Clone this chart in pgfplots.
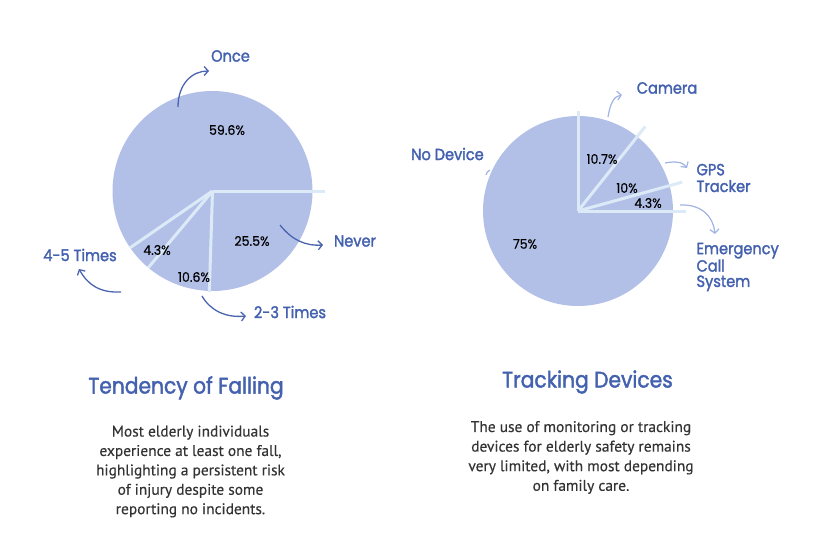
\documentclass[border=0pt]{standalone}
\usepackage{pgfplots}
\pgfplotsset{compat=1.18}
\usepackage{pgfplotstable}
\usetikzlibrary{arrows.meta}
\usepackage{fontspec}
\setmainfont{Poppins}
\newfontfamily\labf[FakeStretch=0.9,FakeBold=1.8]{Poppins}
\newfontfamily\pctf[FakeStretch=0.95,FakeBold=0.4]{Poppins}
\newfontfamily\descf[FakeBold=0.3]{PT Sans}
\definecolor{pie}{HTML}{B2C0E8}
\definecolor{sep}{HTML}{DCEAF8}
\definecolor{lab}{HTML}{4361AE}
\definecolor{arrL}{HTML}{4A64B0}
\definecolor{arrR}{HTML}{A0B3E3}
\definecolor{desc}{HTML}{333333}

\pgfplotstableread{
cat value
Never 25.5
TwoThree 10.6
FourFive 4.3
Once 59.6
}\falling
\pgfplotstableread{
cat value
Camera 10.7
GPS 10
Emergency 4.3
NoDevice 75
}\tracking

\pgfplotstablegetelem{0}{value}\of\falling \let\fA\pgfplotsretval
\pgfplotstablegetelem{1}{value}\of\falling \let\fB\pgfplotsretval
\pgfplotstablegetelem{2}{value}\of\falling \let\fC\pgfplotsretval
\pgfplotstablegetelem{3}{value}\of\falling \let\fD\pgfplotsretval
\pgfplotstablegetelem{0}{value}\of\tracking \let\tA\pgfplotsretval
\pgfplotstablegetelem{1}{value}\of\tracking \let\tB\pgfplotsretval
\pgfplotstablegetelem{2}{value}\of\tracking \let\tC\pgfplotsretval
\pgfplotstablegetelem{3}{value}\of\tracking \let\tD\pgfplotsretval

% cumulative angles (clockwise)
\pgfmathsetmacro\fa{0}
\pgfmathsetmacro\fb{\fa-3.6*\fA}
\pgfmathsetmacro\fc{\fb-3.6*\fB}
\pgfmathsetmacro\fd{\fc-3.6*\fC}
\pgfmathsetmacro\fe{\fd-3.6*\fD}
\pgfmathsetmacro\ta{90}
\pgfmathsetmacro\tb{\ta-3.6*\tA}
\pgfmathsetmacro\tc{\tb-3.6*\tB}
\pgfmathsetmacro\td{\tc-3.6*\tC}
\pgfmathsetmacro\te{\td-3.6*\tD}

\newcommand\slice[5]{\fill[pie] (axis cs:#1,#2) -- ++(#4:#3pt) arc[start angle=#4,end angle=#5,radius=#3pt] -- cycle;}
\newcommand\sepline[4]{\draw[sep,line width=3pt,line cap=butt] (axis cs:#1,#2) -- ++(#3:#4pt);}

\begin{document}
\begin{tikzpicture}
\useasboundingbox (0,0) rectangle (821pt,554pt);
\begin{axis}[at={(0,0)},anchor=south west,width=821pt,height=554pt,scale only axis,
  xmin=0,xmax=821,ymin=0,ymax=554,y dir=reverse,hide axis,clip=false]
% ---- left pie
\slice{212.5}{191}{100}{\fa}{\fb}
\slice{212.5}{191}{100}{\fb}{\fc}
\slice{212.5}{191}{100}{\fc}{\fd}
\slice{212.5}{191}{100}{\fd}{\fe}
\sepline{212.5}{191}{\fa}{112.5}
\sepline{212.5}{191}{\fb}{101}
\sepline{212.5}{191}{\fc}{100}
\sepline{212.5}{191}{\fd}{100}
% ---- right pie
\slice{578}{211}{95}{\ta}{\tb}
\slice{578}{211}{95}{\tb}{\tc}
\slice{578}{211}{95}{\tc}{\td}
\slice{578}{211}{95}{\td}{\te}
\sepline{578}{211}{\ta}{100}
\sepline{578}{211}{\tb}{108}
\sepline{578}{211}{\tc}{108}
\sepline{578}{211}{\td}{108}
% ---- percentages
\node[font=\pctf\fontsize{13.2}{15}\selectfont] at (axis cs:227,130) {59.6\%};
\node[font=\pctf\fontsize{13.2}{15}\selectfont] at (axis cs:252,241) {25.5\%};
\node[font=\pctf\fontsize{13.2}{15}\selectfont] at (axis cs:194,277) {10.6\%};
\node[font=\pctf\fontsize{13.2}{15}\selectfont] at (axis cs:157,250) {4.3\%};
\node[font=\pctf\fontsize{13.2}{15}\selectfont] at (axis cs:602,159) {10.7\%};
\node[font=\pctf\fontsize{13.2}{15}\selectfont] at (axis cs:627,188) {10\%};
\node[font=\pctf\fontsize{13.2}{15}\selectfont] at (axis cs:648,203) {4.3\%};
\node[font=\pctf\fontsize{13.2}{15}\selectfont] at (axis cs:525,244) {75\%};
% ---- category labels
\node[lab,font=\labf\fontsize{16.2}{17}\selectfont] at (axis cs:230.5,56) {Once};
\node[lab,font=\labf\fontsize{16.2}{17}\selectfont] at (axis cs:355,241) {Never};
\node[lab,font=\labf\fontsize{16.2}{17}\selectfont] at (axis cs:290,312) {2-3 Times};
\node[lab,font=\labf\fontsize{16.2}{17}\selectfont] at (axis cs:80,255) {4-5 Times};
\node[lab,font=\labf\fontsize{16.2}{17}\selectfont] at (axis cs:667,88) {Camera};
\node[lab,font=\labf\fontsize{16.2}{16.7}\selectfont,align=left,anchor=west] at (axis cs:693,178) {GPS\\Tracker};
\node[lab,font=\labf\fontsize{16.2}{15.4}\selectfont,align=left,anchor=west] at (axis cs:693,267) {Emergency\\Call\\System};
\node[lab,font=\labf\fontsize{16.2}{17}\selectfont] at (axis cs:447.5,154) {No Device};
% ---- arrows
\draw[arrL,line width=1.3pt,-{Straight Barb[length=4pt,width=9pt]}] (axis cs:178,107) .. controls (axis cs:178,84) and (axis cs:192,71) .. (axis cs:209,71);
\draw[arrL,line width=1.3pt,-{Straight Barb[length=4pt,width=9pt]}] (axis cs:280,225) .. controls (axis cs:292,240) and (axis cs:305,246) .. (axis cs:323,245);
\draw[arrL,line width=1.3pt,-{Straight Barb[length=4pt,width=9pt]}] (axis cs:202,296) .. controls (axis cs:210,310) and (axis cs:225,318) .. (axis cs:246,316);
\draw[arrL,line width=1.3pt,-{Straight Barb[length=4pt,width=9pt]}] (axis cs:121,292) .. controls (axis cs:100,293) and (axis cs:88,285) .. (axis cs:79,269);
\draw[arrR,line width=1.2pt,-{Straight Barb[length=4pt,width=9pt]}] (axis cs:608,117) .. controls (axis cs:610,104) and (axis cs:614,96) .. (axis cs:622,95);
\draw[arrR,line width=1.2pt,-{Straight Barb[length=4pt,width=9pt]}] (axis cs:665,163) .. controls (axis cs:675,161) and (axis cs:683,162) .. (axis cs:687,168);
\draw[arrR,line width=1.2pt,-{Straight Barb[length=4pt,width=9pt]}] (axis cs:680,205) .. controls (axis cs:700,204) and (axis cs:713,215) .. (axis cs:715,234);
\draw[arrR,line width=1.2pt] (axis cs:486,175) .. controls (axis cs:487,172) .. (axis cs:490,170);
% ---- titles
\node[lab,font=\labf\fontsize{22.5}{26}\selectfont] at (axis cs:186,388) {Tendency of Falling};
\node[lab,font=\labf\fontsize{22.5}{26}\selectfont] at (axis cs:587.5,382) {Tracking Devices};
% ---- descriptions
\node[desc,font=\descf\fontsize{15.4}{19.4}\selectfont,align=center] at (axis cs:190.5,471.5) {Most elderly individuals\\experience at least one fall,\\highlighting a persistent risk\\of injury despite some\\reporting no incidents.};
\node[desc,font=\descf\fontsize{15.4}{19.6}\selectfont,align=center] at (axis cs:581,457.5) {The use of monitoring or tracking\\devices for elderly safety remains\\very limited, with most depending\\on family care.};
\end{axis}
\end{tikzpicture}
\end{document}
